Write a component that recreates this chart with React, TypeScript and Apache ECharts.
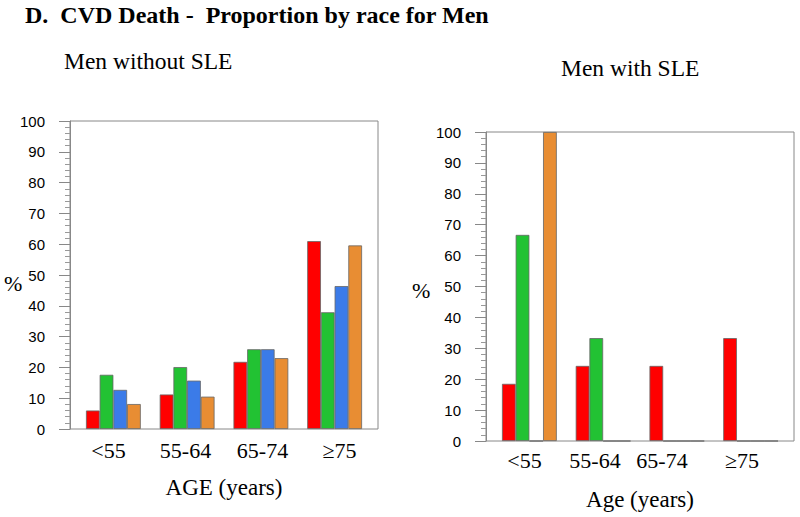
import React, { useEffect, useRef } from "react";
import * as echarts from "echarts";

const categories = ["<55", "55-64", "65-74", "≥75"];
const seriesNames = ["Red", "Green", "Blue", "Orange"];
const colors = ["#ff0000", "#22c233", "#3b7be8", "#e88d33"];

// Men without SLE (%)
const withoutRed = [6.0, 11.2, 21.8, 61.0];
const withoutGreen = [17.6, 20.1, 25.9, 37.9];
const withoutBlue = [12.7, 15.7, 25.9, 46.4];
const withoutOrange = [8.1, 10.5, 23.0, 59.6];

// Men with SLE (%)
const withRed = [18.5, 24.3, 24.3, 33.3];
const withGreen = [66.7, 33.3, 0, 0];
const withBlue = [0, 0, 0, 0];
const withOrange = [100, 0, 0, 0];

const yTicks = { min: 0, max: 100, interval: 10 };

const serif = "Liberation Serif";
const sans = "Liberation Sans";

export default function App() {
  const ref = useRef<HTMLDivElement>(null);
  useEffect(() => {
    if (!ref.current) return;
    const chart = echarts.init(ref.current, null, { renderer: "svg" });

    const frameY = (gridIndex: number) => ({
      type: "value",
      gridIndex,
      min: yTicks.min,
      max: yTicks.max,
      interval: yTicks.interval,
      axisLine: { show: true, lineStyle: { color: "#888", width: 1 } },
      axisTick: { show: true, length: 11, lineStyle: { color: "#888" } },
      minorTick: { show: true, splitNumber: 5, length: 5, lineStyle: { color: "#999" } },
      splitLine: { show: false },
      minorSplitLine: { show: false },
      axisLabel: { margin: 25, fontFamily: sans, fontSize: 15, color: "#000" },
    });

    const hiddenY = (gridIndex: number) => ({
      type: "value",
      gridIndex,
      min: yTicks.min,
      max: yTicks.max,
      show: false,
      splitLine: { show: false },
    });

    const hiddenX = (gridIndex: number) => ({
      type: "category",
      gridIndex,
      data: categories,
      show: false,
    });

    const rightShift = [0, 13, 33, 27];

    const frameX = (gridIndex: number, name: string, margin: number, shifted: boolean) => ({
      type: "category",
      gridIndex,
      data: categories,
      name,
      nameLocation: "middle",
      nameGap: 47,
      nameTextStyle: { fontFamily: serif, fontSize: 23, color: "#000" },
      axisLine: { show: false },
      axisTick: { show: false },
      splitLine: { show: false },
      axisLabel: {
        margin,
        interval: 0,
        fontFamily: serif,
        fontSize: 22,
        color: "#000",
        formatter: shifted
          ? (v: string, i: number) => `{s${i}|${v}}`
          : (v: string) => v,
        rich: shifted
          ? Object.fromEntries(
              rightShift.map((p, i) => [
                `s${i}`,
                { fontFamily: serif, fontSize: 22, color: "#000", padding: [0, p, 0, 0] },
              ])
            )
          : undefined,
      },
    });

    const mkSeries = (data: number[], idx: number, axis: number) => ({
      type: "bar",
      name: seriesNames[idx],
      xAxisIndex: axis,
      yAxisIndex: axis,
      data,
      barWidth: 13.7,
      barGap: "0%",
      itemStyle: { color: colors[idx], borderColor: "#666", borderWidth: 0.8 },
    });

    const g = (o: any) => ({ outerBoundsMode: "none", containLabel: false, ...o });

    const pct = (x: number, y: number) => ({
      type: "text",
      x,
      y,
      style: {
        text: "%",
        fontFamily: serif,
        fontSize: 22,
        fill: "#000",
        align: "left",
        verticalAlign: "middle",
      },
    });

    chart.setOption({
      animation: false,
      backgroundColor: "#fff",
      title: [
        {
          text: "D.  CVD Death -  Proportion by race for Men",
          left: 25,
          top: 3,
          padding: 0,
          textStyle: { fontFamily: serif, fontWeight: "bold", fontSize: 24, color: "#000" },
        },
        {
          text: "Men without SLE",
          left: 64,
          top: 49,
          padding: 0,
          textStyle: { fontFamily: serif, fontWeight: "normal", fontSize: 23.5, color: "#000" },
        },
        {
          text: "Men with SLE",
          left: 561,
          top: 56,
          padding: 0,
          textStyle: { fontFamily: serif, fontWeight: "normal", fontSize: 23.5, color: "#000" },
        },
      ],
      graphic: [pct(4, 283), pct(412, 290)],
      grid: [
        g({ left: 70, top: 121, width: 308, height: 308, show: true, borderColor: "#888", borderWidth: 1, backgroundColor: "transparent" }),
        g({ left: 76.5, top: 121, width: 295, height: 308 }),
        g({ left: 486, top: 132, width: 308, height: 309, show: true, borderColor: "#888", borderWidth: 1, backgroundColor: "transparent" }),
        g({ left: 492.5, top: 132, width: 295, height: 309 }),
      ],
      xAxis: [
        frameX(0, "AGE (years)", 10, false),
        hiddenX(1),
        frameX(2, "Age (years)", 8, true),
        hiddenX(3),
      ],
      yAxis: [frameY(0), hiddenY(1), frameY(2), hiddenY(3)],
      series: [
        mkSeries(withoutRed, 0, 1),
        mkSeries(withoutGreen, 1, 1),
        mkSeries(withoutBlue, 2, 1),
        mkSeries(withoutOrange, 3, 1),
        mkSeries(withRed, 0, 3),
        mkSeries(withGreen, 1, 3),
        mkSeries(withBlue, 2, 3),
        mkSeries(withOrange, 3, 3),
      ],
    });
    return () => chart.dispose();
  }, []);
  return (
    <div
      ref={ref}
      style={{ position: "fixed", left: 0, top: 0, width: 800, height: 517, background: "#fff" }}
    />
  );
}
